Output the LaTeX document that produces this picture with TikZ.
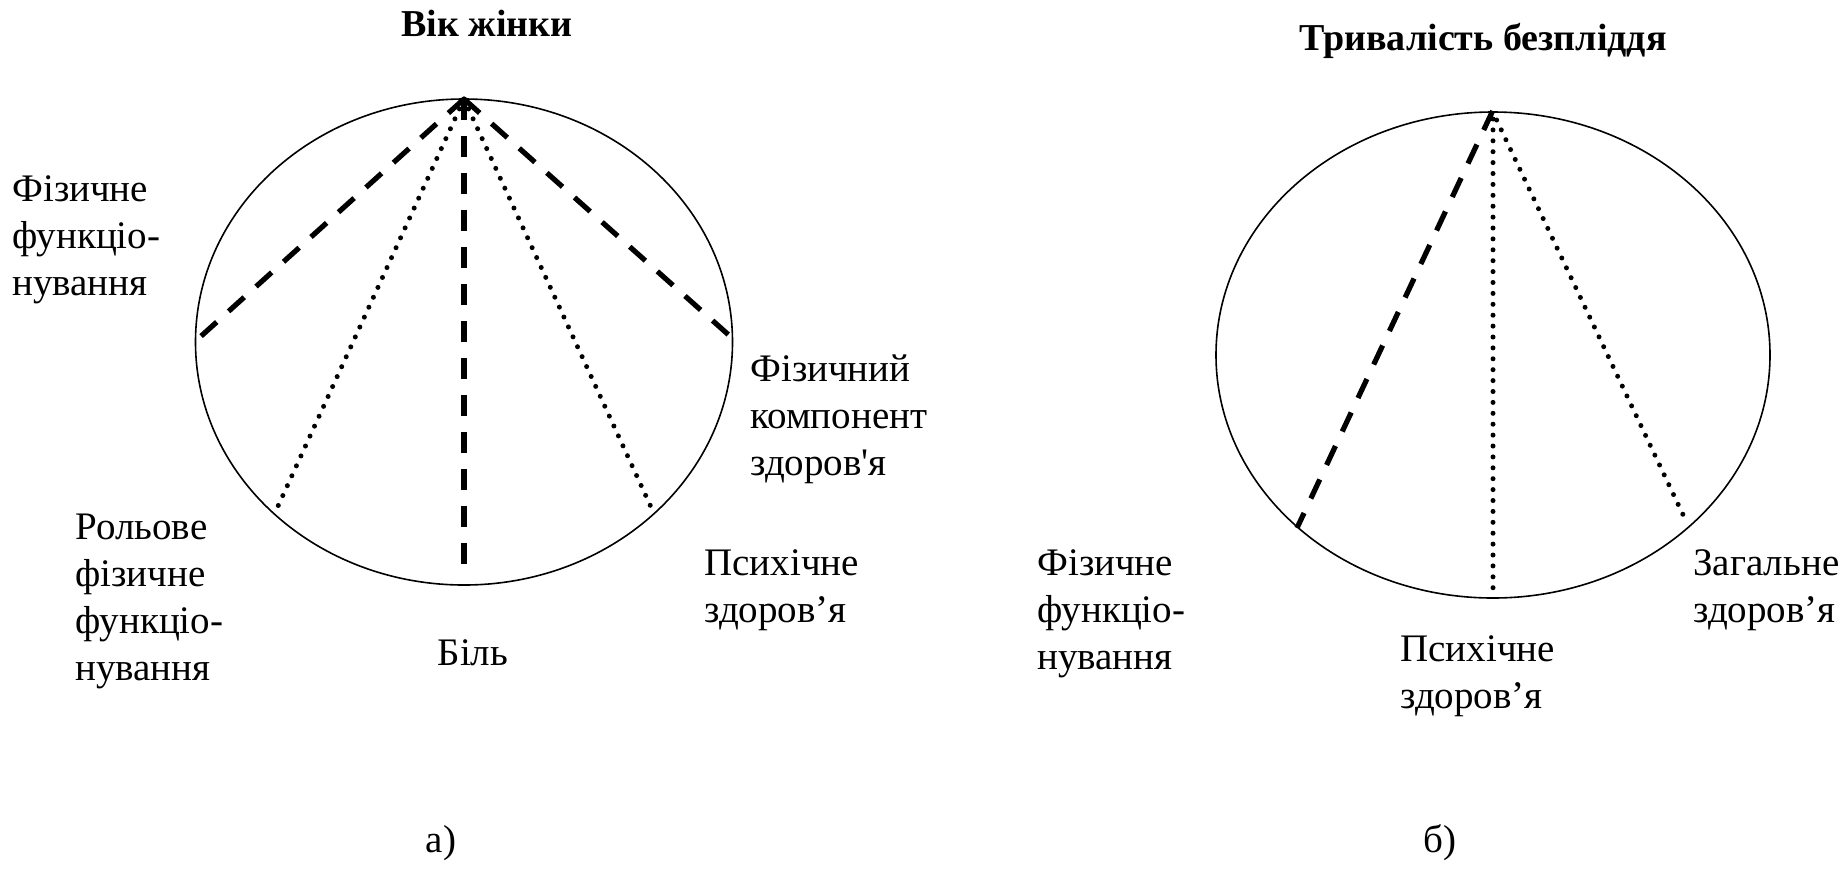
\documentclass[tikz,border=0pt]{standalone}
\usepackage{fontspec}
\setmainfont{Liberation Serif}[Ligatures=TeXOff]
\begin{document}
\begin{tikzpicture}[x=0.5pt,y=-0.5pt,
  oval/.style={line width=0.8pt},
  dashln/.style={line width=2.6pt, dash pattern=on 10.5pt off 8pt},
  dotln/.style={line width=2.5pt, line cap=round, dash pattern=on 0pt off 5.45pt},
  % multi-line labels are anchored at the baseline of their last line
  lbl/.style={font=\fontsize{19.5}{23.5}\selectfont, align=left, anchor=base west, inner sep=0pt},
  ttl/.style={font=\bfseries\fontsize{19}{22}\selectfont, anchor=base, inner sep=0pt},
  midlbl/.style={font=\fontsize{19.5}{23.5}\selectfont, anchor=base, inner sep=0pt}]
\useasboundingbox (0,0) rectangle (1847,874);

% ---- panel a ----
\node[ttl] (titleA) at (487,36) {Вік жінки};
\draw[oval] (464,342) ellipse [x radius=268.5, y radius=243];
\coordinate (apexA) at (464,99);
\coordinate (a1) at (199,338);
\coordinate (a2) at (731,337);
\coordinate (a3) at (277.6,507);
\coordinate (a4) at (651,507);
\coordinate (a5) at (464,566);
\draw[dashln] (apexA) -- (a1);
\draw[dashln] (apexA) -- (a2);
\draw[dotln] (apexA) -- (a3);
\draw[dotln] (apexA) -- (a4);
\draw[dashln] (apexA) -- (a5);

\node[lbl] (la1) at (12,295) {Фізичне\\функціо-\\нування};
\node[lbl] (la2) at (75,680) {Рольове\\фізичне\\функціо-\\нування};
\node[midlbl] (la3) at (473,665) {Біль};
\node[lbl] (la4) at (750,475) {Фізичний\\компонент\\здоров'я};
\node[lbl] (la5) at (704,622) {Психічне\\здоров’я};
\node[midlbl] (capA) at (441,852) {а)};

% ---- panel b ----
\node[ttl] (titleB) at (1483,50) {Тривалість безпліддя};
\draw[oval] (1493,355) ellipse [x radius=277, y radius=243];
\coordinate (apexB) at (1492.6,111);
\coordinate (apexB2) at (1493,119);
\coordinate (apexB3) at (1496.6,120);
\coordinate (b1) at (1297,528);
\coordinate (b2) at (1493,593);
\coordinate (b3) at (1686,521);
\draw[dashln] (apexB) -- (b1);
\draw[dotln] (apexB2) -- (b2);
\draw[dotln] (apexB3) -- (b3);

\node[lbl] (lb1) at (1037,669) {Фізичне\\функціо-\\нування};
\node[lbl] (lb2) at (1400,708) {Психічне\\здоров’я};
\node[lbl] (lb3) at (1693,622) {Загальне\\здоров’я};
\node[midlbl] (capB) at (1440,852) {б)};
\end{tikzpicture}
\end{document}
